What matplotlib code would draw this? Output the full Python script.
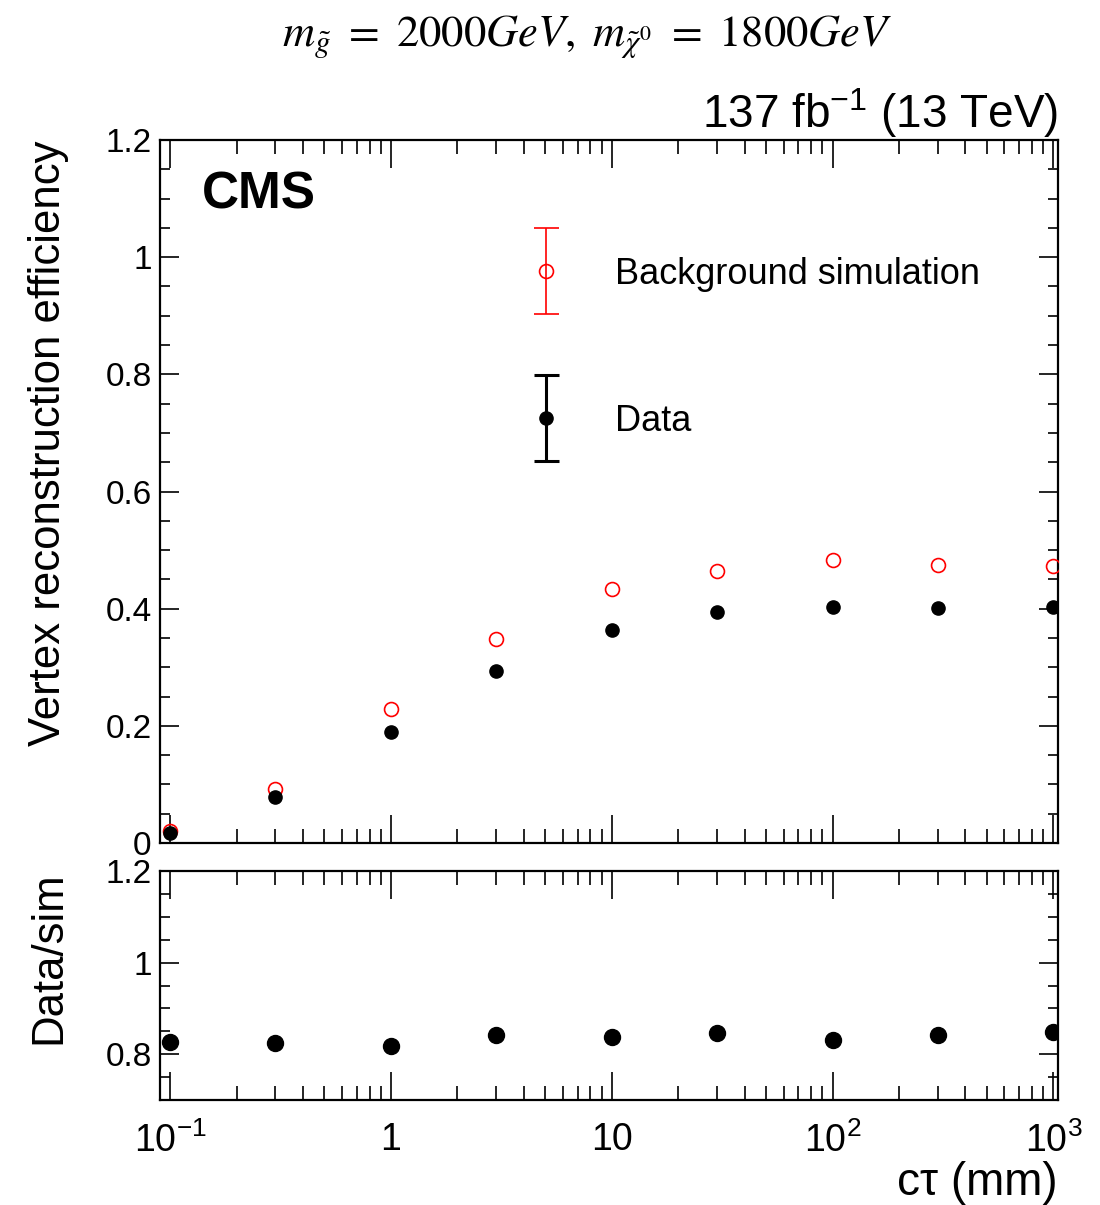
import numpy as np
import matplotlib
matplotlib.use('Agg')
import matplotlib.pyplot as plt
from matplotlib.ticker import FixedLocator, FixedFormatter, MultipleLocator, LogLocator, NullFormatter
from matplotlib.legend_handler import HandlerErrorbar

plt.rcParams['font.family'] = ['Liberation Sans', 'DejaVu Sans']
plt.rcParams['mathtext.fontset'] = 'custom'
plt.rcParams['mathtext.rm'] = 'Liberation Sans'
plt.rcParams['mathtext.it'] = 'Liberation Sans:italic'
plt.rcParams['mathtext.bf'] = 'Liberation Sans:bold'

# values
ctau = [0.1, 0.3, 1, 3, 10, 30, 100, 300, 1000]
sim_eff = [0.021, 0.092, 0.229, 0.348, 0.433, 0.464, 0.483, 0.474, 0.473]
data_eff = [0.017, 0.078, 0.189, 0.293, 0.363, 0.394, 0.403, 0.402, 0.403]
ratio = [0.827, 0.825, 0.818, 0.841, 0.838, 0.847, 0.831, 0.843, 0.849]

xtick_pos = [0.1, 1, 10, 100, 1000]
xtick_labels = [r'$10^{-1}$', '1', '10', r'$10^{2}$', r'$10^{3}$']

fig = plt.figure(figsize=(11, 12.05), dpi=100)
ax = fig.add_axes([0.1455, 0.3004, 0.8163, 0.5834])
rax = fig.add_axes([0.1455, 0.0871, 0.8163, 0.1901])

for a in (ax, rax):
    a.set_xscale('log')
    a.set_xlim(0.09, 1050)
    a.xaxis.set_major_locator(FixedLocator(xtick_pos))
    a.xaxis.set_minor_locator(LogLocator(base=10, subs=np.arange(2, 10)))
    a.xaxis.set_minor_formatter(NullFormatter())
    a.tick_params(which='both', direction='in', top=True, right=True, width=1.2)
    a.tick_params(axis='x', which='major', length=20)
    a.tick_params(axis='x', which='minor', length=10)
    a.tick_params(axis='y', which='major', length=14)
    a.tick_params(axis='y', which='minor', length=7)
    a.tick_params(axis='y', labelsize=24, pad=6)
    for s in a.spines.values():
        s.set_linewidth(1.6)

# top panel
ax.plot(ctau, sim_eff, 'o', mfc='none', mec='red', mew=1.2, ms=10, zorder=3)
ax.plot(ctau, data_eff, 'o', color='black', ms=9.5, zorder=4)
ax.set_ylim(0, 1.2)
ax.yaxis.set_major_locator(FixedLocator([0, 0.2, 0.4, 0.6, 0.8, 1.0, 1.2]))
ax.yaxis.set_major_formatter(FixedFormatter(['0', '0.2', '0.4', '0.6', '0.8', '1', '1.2']))
ax.yaxis.set_minor_locator(MultipleLocator(0.05))
ax.tick_params(axis='x', labelbottom=False)
ax.set_ylabel('Vertex reconstruction efficiency', fontsize=31.5, loc='top', labelpad=26)

# legend proxies (nan data so only the legend shows them)
h_sim = ax.errorbar([np.nan], [np.nan], yerr=[0.1], fmt='o', mfc='none', mec='red',
                    ecolor='red', color='red', ms=10, mew=1.2, elinewidth=1.2,
                    capsize=9, capthick=1.2)
h_data = ax.errorbar([np.nan], [np.nan], yerr=[0.1], fmt='o', color='black', ms=9.5,
                     elinewidth=2.2, capsize=9, capthick=2.2)
leg = ax.legend([h_sim, h_data], ['Background simulation', 'Data'],
                loc='upper left', bbox_to_anchor=(0.41, 0.834), frameon=False,
                fontsize=26, handlelength=1.0, handleheight=0.7, handletextpad=1.4,
                labelspacing=3.1, borderpad=0, borderaxespad=0,
                handler_map={type(h_sim): HandlerErrorbar(yerr_size=1.2)})

ax.text(0.047, 0.957, 'CMS', transform=ax.transAxes, fontsize=37, fontweight='bold',
        ha='left', va='top')
ax.text(1.0, 1.0, r'137 fb$^{-1}$ (13 TeV)', transform=ax.transAxes, fontsize=33,
        ha='right', va='bottom')
fig.text(0.534, 0.970, r'$m_{\tilde{g}}\ =\ 2000GeV,\ m_{\tilde{\chi}^{0}}\ =\ 1800GeV$',
         math_fontfamily='stix', fontsize=32, ha='center', va='center')

# ratio panel
rax.plot(ctau, ratio, 'o', color='black', ms=11.5)
rax.set_ylim(0.7, 1.2)
rax.yaxis.set_major_locator(FixedLocator([0.8, 1.0, 1.2]))
rax.yaxis.set_major_formatter(FixedFormatter(['0.8', '1', '1.2']))
rax.yaxis.set_minor_locator(MultipleLocator(0.05))
rax.xaxis.set_major_formatter(FixedFormatter(xtick_labels))
rax.tick_params(axis='x', labelsize=27, pad=16)
rax.set_ylabel('Data/sim', fontsize=31.5, loc='top', labelpad=26)
rax.set_xlabel(u'c\u03c4 (mm)', fontsize=33, loc='right', labelpad=1)

fig.savefig('out.png', dpi=100)
